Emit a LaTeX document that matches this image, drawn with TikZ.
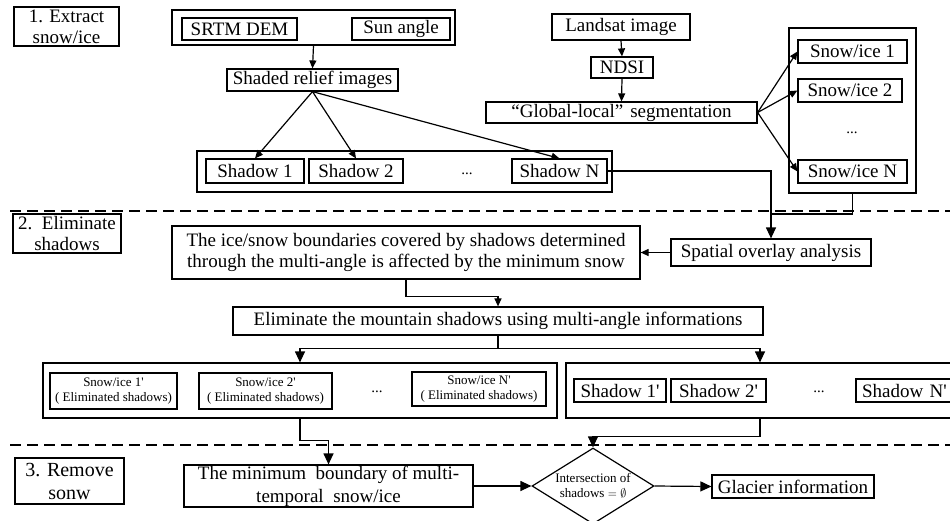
\documentclass[tikz,border=0pt]{standalone}
\usepackage{fontspec}
\setmainfont{Liberation Serif}
\usetikzlibrary{arrows.meta,shapes.geometric}
\newcommand{\sq}{\textquotesingle}
\begin{document}
\begin{tikzpicture}[x=1pt,y=-1pt, line width=1.2pt,
  bx/.style={draw, inner sep=0pt, font=\fontsize{19}{21}\selectfont, align=center},
  sm/.style={draw, inner sep=0pt, font=\fontsize{13}{15}\selectfont, align=center},
  cont/.style={draw, inner sep=0pt},
  dotsty/.style={inner sep=0pt, font=\fontsize{15}{15}\selectfont},
  arr/.style={-{Triangle[length=8pt,width=7pt]}},
  barr/.style={-{Triangle[length=11pt,width=10pt]}},
  sep/.style={dash pattern=on 11pt off 6pt, line width=1.2pt}]
\useasboundingbox (0,0) rectangle (950,520);
% separators
\coordinate (d1a) at (10,211); \coordinate (d1b) at (950,211);
\coordinate (d2a) at (10,445); \coordinate (d2b) at (950,445);
\draw[sep] (d1a) -- (d1b);
\draw[sep] (d2a) -- (d2b);
% stage labels
\node[bx, minimum width=105pt, minimum height=39pt] (lab1) at (66.5,26.5) {1. Extract\\snow/ice};
\node[bx, minimum width=108pt, minimum height=39pt] (lab2) at (67,233.5) {2.\ \ Eliminate\\shadows};
\node[bx, minimum width=109pt, minimum height=46pt, font=\fontsize{20}{23}\selectfont] (lab3) at (69.5,481) {3. Remove\\sonw};
% stage 1 left
\node[cont, minimum width=283pt, minimum height=35pt] (top) at (313.5,27.5) {};
\node[bx, minimum width=115pt, minimum height=22pt] (srtm) at (239.5,29) {SRTM DEM};
\node[bx, minimum width=98pt, minimum height=22pt] (sun) at (401,29) {Sun angle};
\node[bx, minimum width=171pt, minimum height=22pt] (shaded) at (312.5,80) {Shaded relief images};
\node[cont, minimum width=415pt, minimum height=41pt] (shout) at (404.5,171.5) {};
\node[bx, minimum width=98pt, minimum height=24pt] (sh1) at (255,171) {Shadow 1};
\node[bx, minimum width=94pt, minimum height=24pt] (sh2) at (356,171) {Shadow 2};
\node[dotsty] (dots1) at (467,174) {...};
\node[bx, minimum width=95pt, minimum height=24pt] (shN) at (559.5,171) {Shadow N};
% stage 1 right
\node[bx, minimum width=138pt, minimum height=26pt] (landsat) at (621,27) {Landsat image};
\node[bx, minimum width=62pt, minimum height=21pt] (ndsi) at (622,67.5) {NDSI};
\node[bx, minimum width=271pt, minimum height=21pt] (global) at (621.5,112.5) {“Global-local”\hspace{7pt}segmentation};
\node[cont, minimum width=127pt, minimum height=165pt] (sout) at (852.5,110.5) {};
\node[bx, minimum width=109pt, minimum height=23pt] (s1) at (852.5,51.5) {Snow/ice 1};
\node[bx, minimum width=104pt, minimum height=23pt] (s2) at (850,90.5) {Snow/ice 2};
\node[dotsty] (dots2) at (852,133) {...};
\node[bx, minimum width=109pt, minimum height=23pt] (sN) at (852.5,171.5) {Snow/ice N};
% stage 2
\node[bx, minimum width=468pt, minimum height=53pt] (big) at (406,252.5) {The ice/snow boundaries covered by shadows determined\\through the multi-angle is affected by the minimum snow};
\node[bx, minimum width=200pt, minimum height=27pt] (spatial) at (771,252.5) {Spatial overlay analysis};
\node[bx, minimum width=530pt, minimum height=28pt] (elim) at (498,321) {Eliminate the mountain shadows using multi-angle informations};
\node[cont, minimum width=514pt, minimum height=55pt] (lout) at (300,390.5) {};
\node[sm, minimum width=127pt, minimum height=36pt] (si1) at (113.5,391) {Snow/ice 1\sq\\( Eliminated shadows)};
\node[sm, minimum width=133pt, minimum height=36pt] (si2) at (265.5,391) {Snow/ice 2\sq\\( Eliminated shadows)};
\node[dotsty] (dots3) at (377,392) {...};
\node[sm, minimum width=134pt, minimum height=34pt] (siN) at (479,389) {Snow/ice N\sq\\( Eliminated shadows)};
\node[cont, minimum width=388pt, minimum height=55pt] (rout) at (760,390.5) {};
\node[bx, minimum width=92pt, minimum height=23pt] (shp1) at (620,390.5) {Shadow 1\sq};
\node[bx, minimum width=95pt, minimum height=23pt] (shp2) at (718.5,390.5) {Shadow 2\sq};
\node[dotsty] (dots4) at (819,392) {...};
\node[bx, minimum width=100pt, minimum height=23pt, text width=94pt, align=left] (shpN) at (906,390.5) {\hspace{3pt}Shadow N\sq};
% stage 3
\node[bx, minimum width=289pt, minimum height=42pt, font=\fontsize{19}{23}\selectfont] (minb) at (328.5,486) {The minimum\ \ boundary of multi-\\temporal\ \ snow/ice};
\node[draw, shape=diamond, inner sep=0pt, minimum width=122pt, minimum height=76pt,
  label={[font=\fontsize{13}{15}\selectfont, align=center]center:Intersection of\\shadows $=\emptyset$}] (dia) at (593,486) {};
\node[bx, minimum width=162pt, minimum height=23pt] (glacier) at (793,486.5) {Glacier information};
% connectors
\draw[arr] (top.south) -- (shaded.north);
\draw[arr] (shaded.south) -- (sh1.north);
\draw[arr] (shaded.south) -- (sh2.north);
\draw[arr] (shaded.south) -- (shN.north);
\draw[arr] (landsat.south) -- (ndsi.north);
\draw[arr] (ndsi.south) -- (global.north);
\draw[arr] (global.east) -- (s1.west);
\draw[arr] (global.east) -- (s2.west);
\draw[arr] (global.east) -- (sN.west);
\coordinate (j1) at (772,214);
\draw[barr] (shN.east) -| (spatial.north);
\draw (sout.south) |- (j1);
\draw[arr] (spatial.west) -- (big.east);
\draw[arr] (big.south) -- ++(0,17) -| (elim.north);
\draw (elim.south) -- ++(0,13) coordinate (e1);
\draw[barr] (e1) -| (lout.north);
\draw[barr] (e1) -| (rout.north);
\draw[barr] (lout.south) -- ++(0,22) -| (minb.north);
\draw[barr] (rout.south) -- ++(0,18) -| (dia.north);
\draw[barr] (minb.east) -- (dia.west);
\draw[barr] (dia.east) -- (glacier.west);
\end{tikzpicture}
\end{document}
